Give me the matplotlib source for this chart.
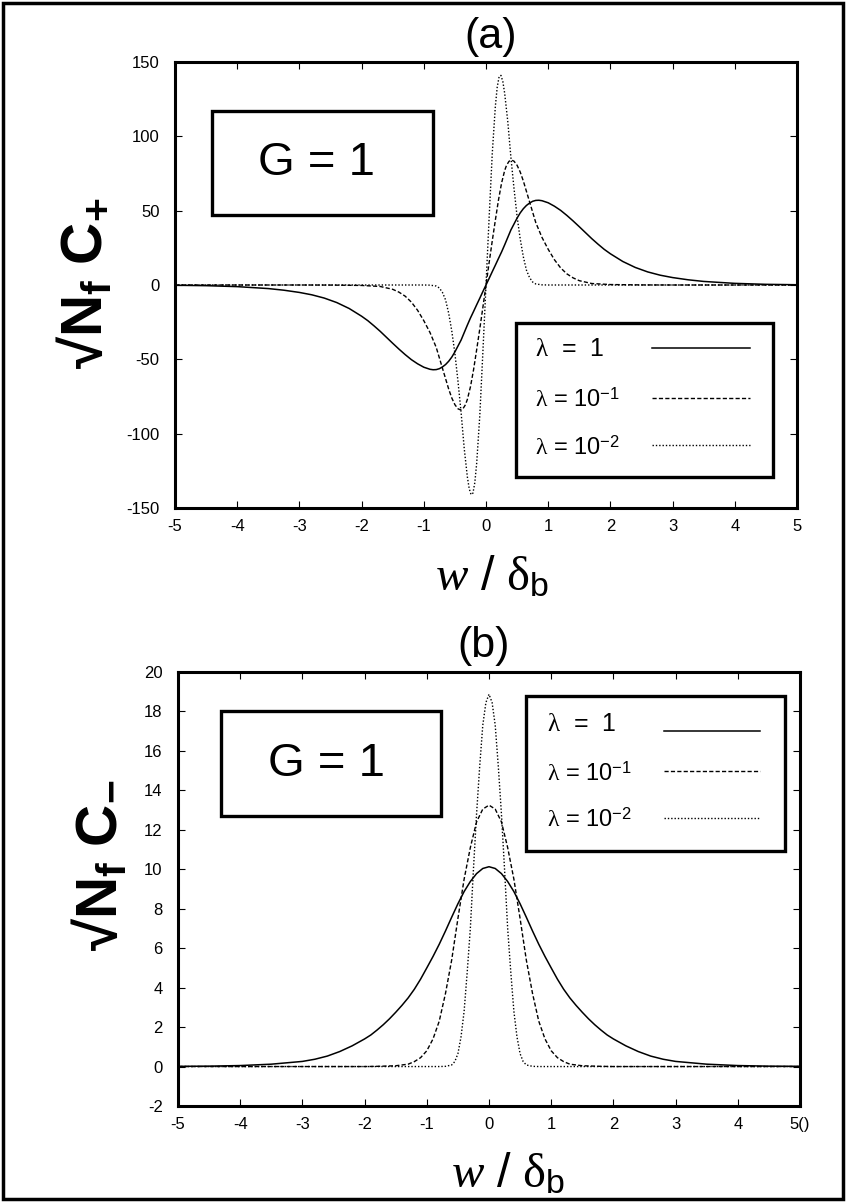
import matplotlib
matplotlib.use('Agg')
import matplotlib.pyplot as plt
from matplotlib import font_manager
from matplotlib.patches import Rectangle
from matplotlib.lines import Line2D

W, H = 846, 1202

installed = {f.name for f in font_manager.fontManager.ttflist}
label_font = 'Liberation Sans Narrow' if 'Liberation Sans Narrow' in installed else 'Liberation Sans'
label_size = 48 if label_font == 'Liberation Sans Narrow' else 42

plt.rcParams['font.family'] = ['Liberation Sans', 'DejaVu Sans']
plt.rcParams['axes.unicode_minus'] = False
plt.rcParams['mathtext.fontset'] = 'custom'
plt.rcParams['mathtext.rm'] = 'Liberation Sans'
plt.rcParams['mathtext.sf'] = 'Liberation Sans'
plt.rcParams['mathtext.bf'] = label_font + ':bold'
plt.rcParams['mathtext.it'] = 'Liberation Serif'
plt.rcParams['mathtext.cal'] = 'Liberation Serif:italic'

# --- data ---
# (a) sqrt(Nf) C+
x_a1 = [-5, -4.5, -4, -3.5, -3.25, -3, -2.8, -2.6, -2.4, -2.2, -2, -1.9, -1.8, -1.7, -1.6, -1.5, -1.4,
        -1.3, -1.2, -1.1, -1, -0.9, -0.85, -0.8, -0.75, -0.7, -0.65, -0.6, -0.55, -0.5, -0.45, -0.4,
        -0.35, -0.3, -0.25, -0.2, -0.15, -0.1, -0.05, 0, 0.05, 0.1, 0.15, 0.2, 0.25, 0.3, 0.35, 0.4,
        0.45, 0.5, 0.55, 0.6, 0.65, 0.7, 0.75, 0.8, 0.85, 0.9, 1, 1.1, 1.2, 1.3, 1.4, 1.5, 1.6, 1.7,
        1.8, 1.9, 2, 2.2, 2.4, 2.6, 2.8, 3, 3.25, 3.5, 4, 4.5, 5]
y_a1 = [-0.18, -0.45, -1.1, -2.4, -3.5, -5.0, -6.6, -8.8, -11.8, -15.8, -21, -24, -27.5, -31.2, -35.2,
        -39.2, -43.1, -46.8, -50.2, -53, -55.3, -56.7, -57, -56.9, -56.3, -55.1, -53.5, -51.3, -48.5,
        -45, -41, -37, -32, -27, -22.2, -17.8, -13.3, -8.9, -4.4, 0, 4.4, 8.9, 13.3, 17.8, 22.2, 27,
        32, 37, 41, 45, 48.5, 51.3, 53.5, 55.1, 56.3, 56.9, 57, 56.7, 55.3, 53, 50.2, 46.8, 43.1, 39.2,
        35.2, 31.2, 27.5, 24, 21, 15.8, 11.8, 8.8, 6.6, 5.0, 3.5, 2.4, 1.1, 0.45, 0.18]

x_a2 = [-5, -3, -2.5, -2, -1.7, -1.5, -1.4, -1.3, -1.2, -1.1, -1, -0.9, -0.8, -0.7, -0.6, -0.55, -0.5,
        -0.45, -0.41, -0.37, -0.33, -0.3, -0.25, -0.2, -0.15, -0.1, -0.05, 0, 0.05, 0.1, 0.15, 0.2,
        0.25, 0.3, 0.33, 0.37, 0.41, 0.45, 0.5, 0.55, 0.6, 0.7, 0.8, 0.9, 1, 1.1, 1.2, 1.3, 1.4, 1.5,
        1.7, 2, 2.5, 3, 5]
y_a2 = [0, 0, -0.05, -0.3, -1.0, -2.9, -4.8, -7.5, -11.5, -17, -24, -32, -42, -56, -70, -76, -80.5,
        -83.3, -84, -83.2, -80.5, -77, -68.5, -57, -43.5, -29.5, -15, 0, 15, 29.5, 43.5, 57,
        68.5, 77, 80.5, 83.2, 84, 83.3, 80.5, 76, 70, 56, 42, 32, 24, 17, 11.5, 7.5, 4.8, 2.9,
        1.0, 0.3, 0.05, 0, 0]

x_a3 = [-5, -1, -0.9, -0.8, -0.75, -0.7, -0.65, -0.6, -0.55, -0.5, -0.45, -0.4, -0.35, -0.3, -0.27,
        -0.24, -0.21, -0.18, -0.15, -0.1, -0.05, 0, 0.05, 0.1, 0.15, 0.18, 0.21, 0.24, 0.27, 0.3, 0.35,
        0.4, 0.45, 0.5, 0.55, 0.6, 0.65, 0.7, 0.75, 0.8, 0.9, 1, 5]
y_a3 = [0, 0, -0.1, -0.7, -2, -5, -10, -19, -31, -46, -65, -86, -110, -129, -137,
        -141, -140, -133, -120, -88, -45, 0, 45, 88, 120, 133, 140, 141, 137, 129, 110,
        86, 65, 46, 31, 19, 10, 5, 2, 0.7, 0.1, 0, 0]

# (b) sqrt(Nf) C-
x_b1 = [-5, -4.5, -4, -3.5, -3, -2.8, -2.6, -2.4, -2.2, -2, -1.9, -1.8, -1.7, -1.6, -1.5, -1.4, -1.3,
        -1.2, -1.1, -1, -0.9, -0.8, -0.7, -0.6, -0.5, -0.4, -0.3, -0.2, -0.1, 0, 0.1, 0.2, 0.3, 0.4,
        0.5, 0.6, 0.7, 0.8, 0.9, 1, 1.1, 1.2, 1.3, 1.4, 1.5, 1.6, 1.7, 1.8, 1.9, 2, 2.2, 2.4, 2.6,
        2.8, 3, 3.5, 4, 4.5, 5]
y_b1 = [0.01, 0.02, 0.05, 0.12, 0.26, 0.37, 0.53, 0.76, 1.05, 1.4, 1.6, 1.85, 2.12, 2.42, 2.75, 3.1,
        3.48, 3.92, 4.43, 5.0, 5.58, 6.2, 6.87, 7.57, 8.25, 8.87, 9.38, 9.78, 10.04, 10.13, 10.04,
        9.78, 9.38, 8.87, 8.25, 7.57, 6.87, 6.2, 5.58, 5.0, 4.43, 3.92, 3.48, 3.1, 2.75, 2.42, 2.12,
        1.85, 1.6, 1.4, 1.05, 0.76, 0.53, 0.37, 0.26, 0.12, 0.05, 0.02, 0.01]

x_b2 = [-5, -2, -1.8, -1.5, -1.3, -1.2, -1.1, -1, -0.9, -0.8, -0.7, -0.6, -0.5, -0.4, -0.3, -0.2, -0.1,
        0, 0.1, 0.2, 0.3, 0.4, 0.5, 0.6, 0.7, 0.8, 0.9, 1, 1.1, 1.2, 1.3, 1.5, 1.8, 2, 5]
y_b2 = [0, 0, 0.01, 0.04, 0.12, 0.25, 0.45, 0.8, 1.4, 2.3, 3.7, 5.4, 7.5, 9.5, 11.1, 12.4, 13.05,
        13.25, 13.05, 12.4, 11.1, 9.5, 7.5, 5.4, 3.7, 2.3, 1.4, 0.8, 0.45, 0.25, 0.12, 0.04, 0.01, 0, 0]

x_b3 = [-5, -0.8, -0.7, -0.6, -0.55, -0.5, -0.45, -0.4, -0.35, -0.3, -0.25, -0.2, -0.15, -0.1, -0.05,
        0, 0.05, 0.1, 0.15, 0.2, 0.25, 0.3, 0.35, 0.4, 0.45, 0.5, 0.55, 0.6, 0.7, 0.8, 5]
y_b3 = [0, 0, 0.01, 0.08, 0.25, 0.65, 1.5, 2.8, 4.8, 7.0, 10.0, 12.8, 15.2, 17.3, 18.45,
        18.87, 18.45, 17.3, 15.2, 12.8, 10.0, 7.0, 4.8, 2.8, 1.5, 0.65, 0.25, 0.08, 0.01, 0, 0]

legend_labels = [r'$\lambda$  =  1', r'$\lambda$ = 10$^{-1}$', r'$\lambda$ = 10$^{-2}$']
styles = [dict(ls='-', lw=1.1), dict(ls=(0, (3, 1.6)), lw=1.0), dict(ls=(0, (1, 1.4)), lw=1.0)]


def fx(x):
    return x / W


def fy(y):
    return 1 - y / H


def make_axes(fig, left, right, top, bottom):
    return fig.add_axes([fx(left), fy(bottom), (right - left) / W, (bottom - top) / H])


def style_axes(ax, ylim, yticks, xlabels):
    ax.set_xlim(-5, 5)
    ax.set_ylim(*ylim)
    ax.set_xticks(range(-5, 6))
    ax.set_xticklabels(xlabels)
    ax.set_yticks(yticks)
    ax.tick_params(direction='in', length=5, width=0.8, top=True, right=True, labelsize=12)
    ax.tick_params(axis='y', pad=11)
    ax.tick_params(axis='x', pad=8)
    for s in ax.spines.values():
        s.set_linewidth(2.2)


def box(fig, x0, y0, x1, y1, lw=2.4):
    fig.patches.append(Rectangle((fx(x0), fy(y1)), (x1 - x0) / W, (y1 - y0) / H,
                                 transform=fig.transFigure, fill=True, facecolor='white',
                                 edgecolor='black', lw=lw, zorder=5))


def legend(fig, x0, y0, x1, y1, text_x, rows, line_x0, line_x1, sizes):
    box(fig, x0, y0, x1, y1)
    for (ty, ly), lab, st, fs in zip(rows, legend_labels, styles, sizes):
        fig.text(fx(text_x), fy(ty), lab, fontsize=fs, va='center', ha='left', zorder=6)
        fig.add_artist(Line2D([fx(line_x0), fx(line_x1)], [fy(ly), fy(ly)], color='black',
                              transform=fig.transFigure, zorder=6, **st))


xlabel = r'$\mathcal{w}\ \mathrm{/}\ \delta_{\mathrm{b}}$'

fig = plt.figure(figsize=(W / 100, H / 100), dpi=100)

# --- (a) ---
ax1 = make_axes(fig, 175, 797, 62, 508)
for xs, ys, st in zip([x_a1, x_a2, x_a3], [y_a1, y_a2, y_a3], styles):
    ax1.plot(xs, ys, color='black', **st)
style_axes(ax1, (-150, 150), range(-150, 151, 50), [str(v) for v in range(-5, 6)])

fig.text(fx(491), fy(37), '(a)', fontsize=31, ha='center', va='center')
fig.text(fx(492), fy(578), xlabel, fontsize=35, ha='center', va='center')
fig.text(fx(84), fy(283), r'$\mathbf{√N_{f}\ C_{+}}$', fontsize=label_size, rotation=90,
         ha='center', va='center')
box(fig, 212, 111, 433, 215)
fig.text(fx(316), fy(163), 'G = 1', fontsize=34, ha='center', va='center', zorder=6)
legend(fig, 516, 323, 773, 477, 535, [(349, 348), (400, 398), (448, 445)], 652, 750, [18, 17, 17])

# --- (b) ---
ax2 = make_axes(fig, 178, 800, 672, 1106)
for xs, ys, st in zip([x_b1, x_b2, x_b3], [y_b1, y_b2, y_b3], styles):
    ax2.plot(xs, ys, color='black', **st)
style_axes(ax2, (-2, 20), range(-2, 21, 2), [str(v) for v in range(-5, 5)] + ['5()'])

fig.text(fx(484), fy(646), '(b)', fontsize=31, ha='center', va='center')
fig.text(fx(508), fy(1175), xlabel, fontsize=35, ha='center', va='center')
fig.text(fx(100), fy(865), r'$\mathbf{√N_{f}\ C_{-}}$', fontsize=label_size, rotation=90,
         ha='center', va='center')
box(fig, 221, 711, 441, 816)
fig.text(fx(326), fy(764), 'G = 1', fontsize=34, ha='center', va='center', zorder=6)
legend(fig, 526, 696, 785, 851, 547, [(724, 731), (774, 771), (820, 818)], 664, 760, [18, 17, 17])

# outer frame
fig.patches.append(Rectangle((fx(3), fy(1199)), 840 / W, 1196 / H, transform=fig.transFigure,
                             fill=False, edgecolor='black', lw=2.5))

fig.savefig('out.png', dpi=100)
